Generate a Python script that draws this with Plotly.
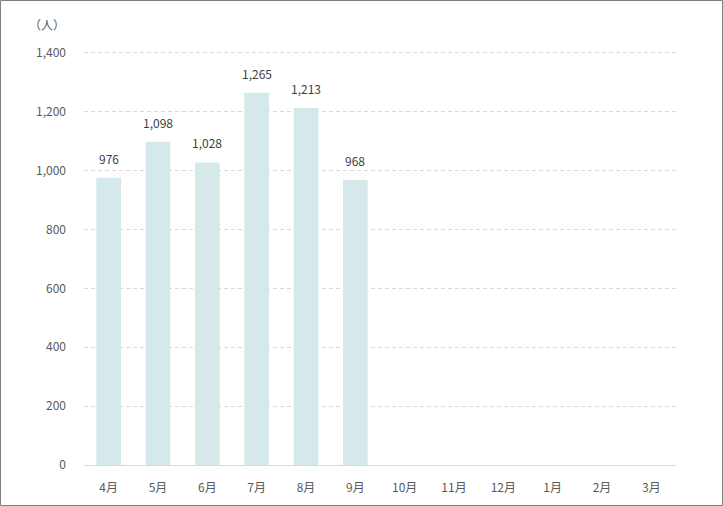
import plotly.graph_objects as go

months = ["4月", "5月", "6月", "7月", "8月", "9月", "10月", "11月", "12月", "1月", "2月", "3月"]
values = [976, 1098, 1028, 1265, 1213, 968, None, None, None, None, None, None]
y_ticks = [0, 200, 400, 600, 800, 1000, 1200, 1400]
y_tick_text = ["0", "200", "400", "600", "800", "1,000", "1,200", "1,400"]
unit_label = "（人）"

W, H = 723, 506
L, R, T, B = 84, 47, 50, 41
pw, ph = W - L - R, H - T - B
ymax = 1410

font = "Noto Sans CJK JP, Meiryo, sans-serif"

fig = go.Figure(go.Bar(
    x=months, y=values,
    marker=dict(color="#d5e9eb", line=dict(width=0)),
    width=0.5,
))

annotations = []
for m, v in zip(months, values):
    if v is None:
        continue
    annotations.append(dict(x=m, y=v, xref="x", yref="y", text=f"{v:,}",
                            showarrow=False, yanchor="bottom", xanchor="center", yshift=9,
                            font=dict(size=12, color="#404040", family=font)))

annotations.append(dict(text=unit_label, xref="paper", yref="paper",
                        x=(47 - L) / pw, y=1 + (50 - 25) / ph, xanchor="center", yanchor="middle",
                        showarrow=False, font=dict(size=12, color="#595959", family=font)))

fig.update_layout(
    width=W, height=H,
    margin=dict(l=L, r=R, t=T, b=B),
    paper_bgcolor="white", plot_bgcolor="white",
    showlegend=False,
    font=dict(family=font, size=12, color="#595959"),
    xaxis=dict(type="category", showgrid=False, showline=True, linecolor="#d9d9d9",
               linewidth=1, ticks="", ticklabelstandoff=12,
               tickfont=dict(size=12, color="#595959")),
    yaxis=dict(range=[0, ymax], tickvals=y_ticks, ticktext=y_tick_text,
               showgrid=True, gridcolor="#d9d9d9", griddash="4px,3px", gridwidth=1,
               zeroline=False, showline=False, ticks="", ticklabelstandoff=17,
               tickfont=dict(size=12, color="#595959")),
    annotations=annotations,
    shapes=[dict(type="rect", xref="paper", yref="paper",
                 x0=(-L + 0.5) / pw, x1=1 + (R - 0.5) / pw,
                 y0=(-B + 0.5) / ph, y1=1 + (T - 0.5) / ph,
                 line=dict(color="#7f7f7f", width=1), layer="above")],
    bargap=0.5,
)

fig.write_html("out.html")
